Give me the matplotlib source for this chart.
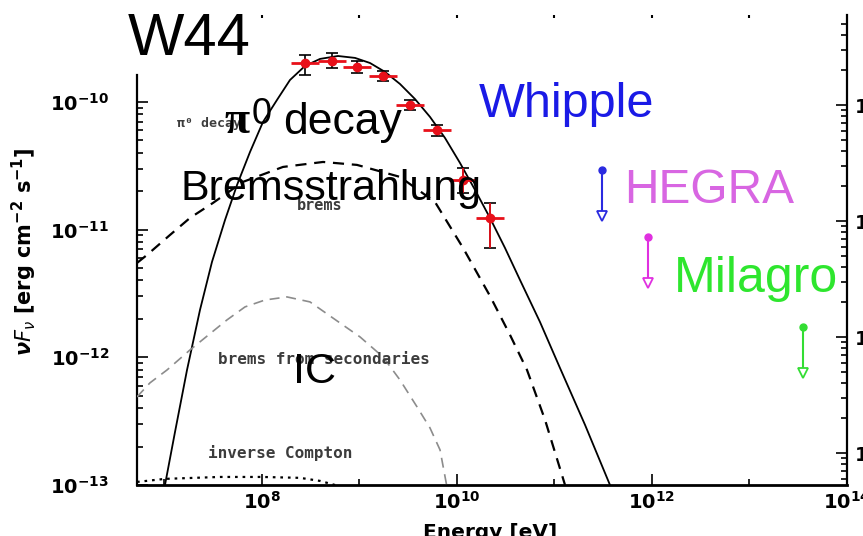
import numpy as np
import matplotlib
matplotlib.use("Agg")
import matplotlib.pyplot as plt
from matplotlib import ticker

# log10(E / eV) and log10(nuF_nu / erg cm^-2 s^-1) for the model curves
pi0_logE = [7.005, 7.108, 7.231, 7.364, 7.487, 7.621, 7.744, 7.877, 8.010, 8.154,
            8.287, 8.441, 8.595, 8.779, 8.954, 9.108, 9.262, 9.415, 9.569, 9.723,
            9.877, 10.031, 10.185, 10.338, 10.492, 10.646, 10.851, 11.056, 11.313, 11.569]
pi0_logF = [-13.0, -12.584, -12.099, -11.629, -11.253, -10.924, -10.650, -10.392, -10.157, -9.984,
            -9.828, -9.718, -9.663, -9.640, -9.655, -9.695, -9.765, -9.859, -9.977, -10.117,
            -10.282, -10.478, -10.689, -10.908, -11.143, -11.394, -11.723, -12.083, -12.529, -13.0]

brems_logE = [6.718, 6.821, 7.056, 7.262, 7.497, 7.805, 8.215, 8.626, 8.974, 9.415,
              9.774, 10.062, 10.338, 10.544, 10.718, 10.903, 11.108]
brems_logF = [-11.261, -11.198, -11.042, -10.908, -10.791, -10.626, -10.509, -10.470, -10.493, -10.587,
              -10.783, -11.143, -11.519, -11.825, -12.099, -12.490, -13.0]

sec_logE = [6.718, 6.851, 7.026, 7.262, 7.641, 7.826, 8.031, 8.256, 8.492, 8.800,
            9.005, 9.241, 9.415, 9.590, 9.723, 9.826, 9.897]
sec_logF = [-12.310, -12.200, -12.099, -11.942, -11.707, -11.605, -11.551, -11.527, -11.566, -11.731,
            -11.840, -11.997, -12.177, -12.388, -12.553, -12.725, -13.015]

ic_logE = [6.718, 7.005, 7.569, 8.0, 8.390, 8.595, 8.749]
ic_logF = [-12.976, -12.952, -12.937, -12.937, -12.944, -12.968, -13.0]

# Fermi-LAT points
lat_logE = [8.441, 8.718, 8.974, 9.241, 9.518, 9.795, 10.062, 10.338]
lat_logF = [-9.695, -9.679, -9.726, -9.796, -10.023, -10.219, -10.611, -10.908]
lat_logF_hi = [-9.632, -9.616, -9.679, -9.757, -9.984, -10.180, -10.517, -10.791]
lat_logF_lo = [-9.789, -9.734, -9.773, -9.836, -10.063, -10.266, -10.713, -11.143]
lat_halfbin = 0.14

# TeV upper limits
ul_names = ["Whipple", "HEGRA", "Milagro"]
ul_logE = [11.487, 11.959, 13.549]
ul_logF = [-10.532, -11.057, -11.762]
ul_colors = ["#2a2ae0", "#e030e0", "#33dd33"]

W, H = 863, 536
fig = plt.figure(figsize=(W / 100, H / 100), dpi=100)
ax = fig.add_axes([137 / W, 51 / H, 710 / W, 470 / H])
ax.set_xscale("log")
ax.set_yscale("log")
ax.set_xlim(10 ** 6.718, 1e14)
ax.set_ylim(1e-13, 10 ** -9.319)

p = lambda a: 10 ** np.asarray(a)

ax.plot(p(pi0_logE), p(pi0_logF), color="black", lw=1.3, zorder=3)
ax.plot(p(brems_logE), p(brems_logF), color="black", lw=1.6, ls=(0, (5, 3.5)), zorder=3)
ax.plot(p(sec_logE), p(sec_logF), color="#8c8c8c", lw=1.2, ls=(0, (6, 4)), zorder=3)
ax.plot(p(ic_logE), p(ic_logF), color="black", lw=1.6, ls=(0, (1.2, 2.2)), zorder=3)

# data points: black flux errors with caps, red energy bins
E = p(lat_logE)
F = p(lat_logF)
yerr = [F - p(lat_logF_lo), p(lat_logF_hi) - F]
xerr = [E - E * 10 ** -lat_halfbin, E * 10 ** lat_halfbin - E]
ax.errorbar(E, F, yerr=yerr, fmt="none", ecolor="black", elinewidth=1.2,
            capsize=4, capthick=1.2, zorder=4)
ax.errorbar(E[-2:], F[-2:], yerr=[yerr[0][-2:], yerr[1][-2:]], fmt="none",
            ecolor="#e8101a", elinewidth=1.3, zorder=5)
ax.errorbar(E, F, xerr=xerr, fmt="o", color="#e8101a", ms=6, elinewidth=2,
            capsize=0, zorder=5)

# upper limits
for e, f, c in zip(ul_logE, ul_logF, ul_colors):
    ax.plot([10 ** e, 10 ** e], [10 ** f, 10 ** (f - 0.36)], color=c, lw=1.5, zorder=4)
    ax.plot(10 ** e, 10 ** f, "o", color=c, ms=5, zorder=5)
    ax.plot(10 ** e, 10 ** (f - 0.36), "v", mfc="white", mec=c, mew=1.3, ms=7, zorder=5)

# axes styling
for s in ["top", "right"]:
    ax.spines[s].set_visible(False)
ax.spines["left"].set_bounds(1e-13, 10 ** -9.79)
ax.spines["left"].set_linewidth(1.6)
ax.spines["bottom"].set_linewidth(2)

bold_pow = ticker.FuncFormatter(lambda v, _: r"$\mathbf{10^{%d}}$" % round(np.log10(v)))
ax.xaxis.set_major_locator(ticker.FixedLocator([1e8, 1e10, 1e12, 1e14]))
ax.xaxis.set_minor_locator(ticker.FixedLocator([1e7, 1e9, 1e11, 1e13]))
ax.xaxis.set_major_formatter(bold_pow)
ax.xaxis.set_minor_formatter(ticker.NullFormatter())
ax.yaxis.set_major_locator(ticker.FixedLocator([1e-13, 1e-12, 1e-11, 1e-10]))
left_minor = [m * 10.0 ** d for d in (-13, -12, -11) for m in range(2, 10)]
ax.yaxis.set_minor_locator(ticker.FixedLocator(left_minor))
ax.yaxis.set_major_formatter(bold_pow)
ax.yaxis.set_minor_formatter(ticker.NullFormatter())
ax.tick_params(which="both", direction="in", width=1.2, labelsize=14)
ax.tick_params(which="major", length=8)
ax.tick_params(which="minor", length=4)
ax.tick_params(axis="y", pad=20)
ax.tick_params(axis="x", pad=4)

top = ax.secondary_xaxis("top")
top.xaxis.set_major_locator(ticker.FixedLocator([1e8, 1e9, 1e10, 1e11, 1e12, 1e13]))
top.xaxis.set_minor_locator(ticker.NullLocator())
top.tick_params(direction="in", length=2, width=1.5, labeltop=False)
top.spines["top"].set_visible(False)

ax2 = ax.twinx()
ax2.set_yscale("log")
ax2.set_ylim(10 ** -13.276, 10 ** -9.224)
for s in ["top", "left", "bottom"]:
    ax2.spines[s].set_visible(False)
ax2.spines["right"].set_linewidth(1.6)
ax2.yaxis.set_major_locator(ticker.LogLocator(base=10))
ax2.yaxis.set_minor_locator(ticker.LogLocator(base=10, subs=np.arange(2, 10)))
ax2.yaxis.set_major_formatter(bold_pow)
ax2.yaxis.set_minor_formatter(ticker.NullFormatter())
ax2.tick_params(which="both", direction="in", width=1.2, labelsize=14, pad=5)
ax2.tick_params(which="major", length=8)
ax2.tick_params(which="minor", length=4)

fig.text(24 / W, (H - 252) / H,
         r"$\boldsymbol{\nu F_{\nu}}$ [erg cm$^{\mathbf{-2}}$ s$^{\mathbf{-1}}$]",
         rotation=90, ha="center", va="center", fontsize=15, fontweight="bold")
fig.text(490 / W, (H - 523) / H, "Energy [eV]", ha="center", va="top",
         fontsize=14.5, fontweight="bold")

# small curve labels
mono = dict(family="DejaVu Sans Mono", fontweight="bold", color="#3c3c3c")
fx = lambda x: (x - 137) / 710
fy = lambda y: (485 - y) / 470
ax.text(fx(177), fy(124), "π⁰ decay", fontsize=9.5, va="center", transform=ax.transAxes, **mono)
ax.text(fx(297), fy(205), "brems", fontsize=11, va="center", transform=ax.transAxes, **mono)
ax.text(fx(218), fy(360), "brems from secondaries", fontsize=11.5, va="center",
        transform=ax.transAxes, **mono)
ax.text(fx(208), fy(453), "inverse Compton", fontsize=11.5, va="center",
        transform=ax.transAxes, **mono)

# big overlaid labels
big = dict(family="Liberation Sans", va="baseline")
fig.text(128 / W, (H - 55) / H, "W44", fontsize=43, color="black", **big)
fig.text(224 / W, (H - 133) / H, "π", fontsize=33, color="black",
         family="Liberation Serif", fontweight="bold", va="baseline")
fig.text(252 / W, (H - 124) / H, "0", fontsize=26, color="black", **big)
fig.text(283 / W, (H - 134) / H, "decay", fontsize=32, color="black", **big)
fig.text(180 / W, (H - 200) / H, "Bremsstrahlung", fontsize=31, color="black", **big)
fig.text(293 / W, (H - 383) / H, "IC", fontsize=31, color="black", **big)
fig.text(479 / W, (H - 117) / H, ul_names[0], fontsize=35, color="#1a1ae6", **big)
fig.text(624 / W, (H - 203) / H, ul_names[1], fontsize=34.5, color="#d866e2", **big)
fig.text(674 / W, (H - 292) / H, ul_names[2], fontsize=36, color="#2ee62e", **big)

fig.savefig("out.png", dpi=100)
